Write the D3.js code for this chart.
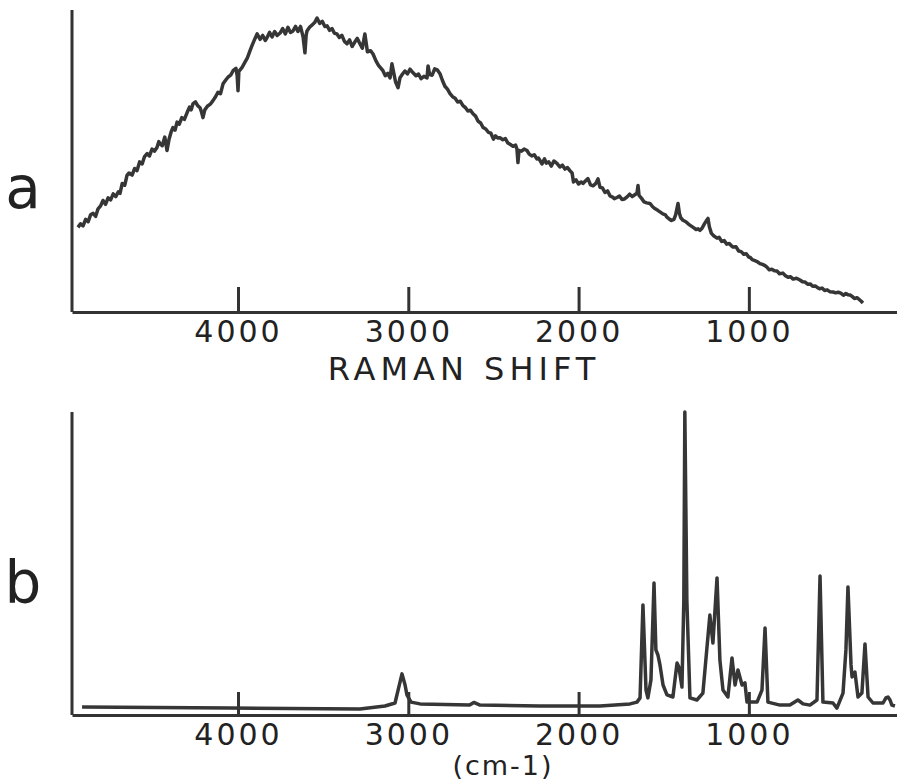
<!DOCTYPE html>
<html>
<head>
<meta charset="utf-8">
<script src="https://cdn.jsdelivr.net/npm/d3@7"></script>
<style>
  body { margin: 0; background: #fff; }
  svg { display: block; }
  .axis path, .axis line { stroke: #333; stroke-width: 3; }
  .axis text { font-family: 'DejaVu Sans', sans-serif; font-size: 30px; fill: #222; letter-spacing: 3px; }
  .trace { fill: none; stroke: #363636; stroke-width: 3.5; stroke-linejoin: round; }
  .label { font-family: 'DejaVu Sans', sans-serif; fill: #222; }
</style>
</head>
<body>
<svg id="chart" width="897" height="781"></svg>
<script>
// tick labels (Raman shift, cm-1)
var tickValues = [4000, 3000, 2000, 1000]

// (a) broad, noisy spectrum
var shiftA = [4940, 4925, 4910, 4895, 4880, 4866, 4851, 4836, 4822, 4807, 4793, 4778, 4763, 4748, 4733, 4718,
  4703, 4693, 4680, 4665, 4652, 4640, 4622, 4607, 4593, 4578, 4563, 4549, 4534, 4520, 4505, 4490, 4476, 4465,
  4458, 4445, 4430, 4417, 4405, 4393, 4382, 4370, 4358, 4345, 4330, 4315, 4299, 4285, 4275, 4264, 4250, 4237,
  4223, 4215, 4206, 4195, 4180, 4163, 4147, 4132, 4118, 4103, 4088, 4073, 4058, 4043, 4029, 4012, 4005, 4000,
  3995, 3977, 3960, 3945, 3930, 3915, 3900, 3888, 3870, 3855, 3840, 3830, 3815, 3800, 3785, 3770, 3753, 3738,
  3722, 3707, 3692, 3677, 3662, 3648, 3633, 3618, 3607, 3600, 3595, 3580, 3565, 3550, 3536, 3520, 3505, 3490,
  3477, 3462, 3448, 3434, 3419, 3405, 3390, 3375, 3360, 3345, 3330, 3315, 3300, 3284, 3270, 3255, 3240, 3222,
  3207, 3190, 3175, 3160, 3149, 3135, 3120, 3107, 3096, 3075, 3060, 3049, 3035, 3020, 3005, 2990, 2972, 2955,
  2940, 2925, 2908, 2890, 2884, 2875, 2860, 2845, 2830, 2814, 2800, 2785, 2770, 2755, 2740, 2725, 2710, 2695,
  2679, 2665, 2650, 2635, 2620, 2605, 2590, 2575, 2561, 2545, 2530, 2515, 2500, 2488, 2475, 2462, 2445, 2430,
  2415, 2400, 2385, 2370, 2362, 2356, 2350, 2335, 2320, 2303, 2290, 2275, 2260, 2245, 2235, 2227, 2215, 2200,
  2190, 2175, 2160, 2145, 2127, 2110, 2095, 2080, 2065, 2050, 2038, 2030, 2015, 2000, 1985, 1974, 1960, 1945,
  1930, 1915, 1900, 1886, 1874, 1860, 1845, 1830, 1815, 1800, 1790, 1774, 1760, 1745, 1730, 1715, 1700, 1685,
  1670, 1657, 1651, 1645, 1630, 1615, 1600, 1581, 1565, 1550, 1535, 1520, 1505, 1490, 1481, 1470, 1455, 1440,
  1430, 1416, 1408, 1400, 1387, 1370, 1355, 1340, 1325, 1310, 1298, 1287, 1275, 1262, 1250, 1240, 1232, 1220,
  1205, 1187, 1175, 1160, 1145, 1130, 1115, 1100, 1093, 1075, 1060, 1045, 1030, 1015, 1000, 993, 980, 965,
  950, 935, 920, 905, 894, 880, 865, 850, 835, 820, 800, 785, 770, 755, 740, 720, 700, 685, 670, 655, 640,
  625, 610, 600, 585, 570, 555, 540, 525, 506, 490, 475, 460, 445, 430, 418, 406, 395, 380, 365, 350, 340, 330]
var intensityA = [28.3, 29.5, 28.8, 31, 30.2, 32.5, 33, 32, 34.5, 35.5, 37.3, 36, 38.2, 37.5, 39.5, 38.6,
  40.2, 39.7, 43, 42.4, 45.7, 46.5, 45.8, 48, 47.3, 50.2, 49.5, 52, 53, 52.2, 54.5, 53.8, 55, 57,
  56.3, 55.6, 58.5, 54, 57.8, 60.2, 61.7, 60.8, 63.5, 62.8, 65, 64.4, 66.7, 68.5, 67.6, 69.7, 70.3, 69,
  68.3, 67, 65, 67.6, 68.8, 69.5, 70.7, 72, 73.5, 73, 76.3, 77.5, 78.6, 79.2, 80.7, 81.5, 79, 74,
  80.5, 81.7, 83.5, 85, 87.3, 89.5, 91.5, 93, 91.2, 92.5, 90.8, 91.7, 93.5, 92, 93.8, 92.5, 93.3, 94.8,
  93, 95.2, 93.5, 94, 95.5, 93.8, 95.5, 92, 86.7, 92.5, 94, 95.2, 96, 96.8, 98.3, 96.5, 97.2, 95.5,
  95.7, 94.2, 94.8, 93.2, 93, 91.8, 92.5, 90.5, 89.7, 91, 88.8, 90.2, 91.5, 89.7, 88.2, 93, 87, 87.4,
  86.3, 84, 82.5, 81.5, 80.7, 79, 79.8, 78.3, 83, 77, 75, 78.3, 79.5, 80.6, 79.6, 81.2, 80, 79,
  79.6, 78, 78.8, 78.3, 82.3, 79.4, 79.2, 81.3, 81, 79.7, 77.5, 75.5, 74.5, 73, 72, 71.5, 70.2, 70.5,
  69, 68.4, 67.2, 67.5, 66.3, 65.5, 63.8, 63.2, 61.7, 61.2, 60.1, 59.8, 57.8, 58.9, 58.2, 58.3, 57.6, 58,
  56.5, 56, 55.4, 55.8, 54.5, 50, 54, 53.8, 54.5, 54, 52.8, 52.2, 52.6, 51.2, 51.5, 50.7, 49.5, 51.2,
  49.8, 50.2, 48.8, 50.5, 49.7, 48.5, 49.1, 47.8, 48.3, 47.2, 46.5, 43.5, 44.2, 42.8, 43.5, 43, 43.8, 44.6,
  42.5, 42.2, 42.9, 44.5, 41.7, 41.5, 40, 40.5, 38.8, 38.4, 37.9, 38.3, 38.8, 37.6, 37.8, 38.5, 39.4, 38.6,
  39.2, 39.7, 42.3, 39, 38, 36.8, 36.5, 36.3, 35.2, 34.5, 34, 33.4, 32.8, 32.5, 31.7, 31.2, 30.6, 31,
  32.5, 36.3, 33, 31.5, 30.7, 30.2, 29.4, 28.8, 28.2, 27.6, 27.8, 27.3, 28, 29.4, 30.5, 31.3, 28.5, 26.3,
  25.4, 24.7, 25, 23.6, 23.9, 22.7, 22.9, 22, 21.7, 21.8, 20.4, 20.2, 19.3, 19.5, 18.3, 18.3, 17.5, 17.2,
  16.8, 16.2, 15.9, 15.5, 15, 14.1, 14.3, 13.8, 13.7, 12.8, 13, 12.1, 11.6, 11.8, 11, 11.3, 10.7, 10.1, 10, 9.3, 9.4,
  8.6, 8.7, 8.3, 7.8, 8, 7.2, 7.4, 6.8, 6.7, 6.4, 6.6, 6.3, 5.6, 6.2, 5.8, 5.7, 5.3, 4.5, 4.8, 4.1, 3.6, 3]

// (b) sharp-band spectrum
var shiftB = [4916, 4047, 3284, 3137, 3078, 3060, 3037, 3019, 3008, 2984, 2931, 2640, 2615, 2579, 2227, 1874,
  1698, 1657, 1639, 1622, 1604, 1593, 1575, 1557, 1546, 1534, 1522, 1504, 1481, 1446, 1422, 1411, 1393, 1382,
  1376, 1364, 1346, 1305, 1270, 1229, 1211, 1187, 1170, 1152, 1123, 1099, 1081, 1064, 1040, 1023, 1011, 952,
  923, 905, 888, 817, 759, 712, 682, 641, 600, 582, 565, 506, 483, 447, 430, 418, 400, 394, 377, 359, 336,
  318, 300, 271, 212, 195, 183, 171, 160, 142]
var intensityB = [2.7, 2.3, 2, 3, 4, 8.3, 13.7, 10, 6.7, 4.3, 3.7, 3.3, 4.2, 3.3, 3, 3, 3.7,
  4.3, 5.7, 36.7, 8.3, 5.7, 11.7, 44, 21.7, 20, 16.7, 10, 6.7, 6, 17.3, 16, 9.3, 38,
  101, 38, 5.7, 5, 7.3, 33.3, 24, 45.7, 18.3, 8.3, 6, 19, 10, 15, 10, 10.7, 4.3, 4.3,
  8.3, 29, 4.3, 3.3, 3.3, 5, 3.7, 3.3, 5, 46.3, 4.3, 4, 2.3, 7.3, 21.7, 42.7, 16.7, 12.7, 14.3, 6, 7.3,
  23.7, 6, 4, 4, 5.7, 6, 5, 3.3, 3]

var svg = d3.select('#chart')

var x = d3.scaleLinear()
  .domain([4975, 130])
  .range([72, 897])

function drawPanel (top, bottom, tickLen, xs, ys, letter, letterY) {
  var y = d3.scaleLinear()
    .domain([0, 100])
    .range([bottom, bottom - (bottom - top) * 100 / 101])

  var g = svg.append('g')

  g.append('g')
    .attr('class', 'axis')
    .attr('transform', 'translate(0,' + bottom + ')')
    .call(d3.axisBottom(x)
      .tickValues(tickValues)
      .tickSize(-tickLen)
      .tickSizeOuter(0)
      .tickPadding(9)
      .tickFormat(d3.format('d')))

  g.append('line')
    .attr('x1', 72).attr('x2', 72)
    .attr('y1', top).attr('y2', bottom)
    .attr('stroke', '#333')
    .attr('stroke-width', 3)

  var line = d3.line()
    .x(function (d, i) { return x(xs[i]) })
    .y(function (d, i) { return y(ys[i]) })

  g.append('path')
    .datum(xs)
    .attr('class', 'trace')
    .attr('d', line)

  g.append('text')
    .attr('class', 'label')
    .attr('x', 23)
    .attr('y', letterY)
    .attr('text-anchor', 'middle')
    .attr('font-size', 58)
    .text(letter)
}

drawPanel(10, 312, 25, shiftA, intensityA, 'a', 208)
drawPanel(412, 715, 23, shiftB, intensityB, 'b', 603)

svg.append('text')
  .attr('class', 'label')
  .attr('x', 464)
  .attr('y', 380)
  .attr('text-anchor', 'middle')
  .attr('font-size', 32)
  .attr('letter-spacing', 5)
  .text('RAMAN SHIFT')

svg.append('text')
  .attr('class', 'label')
  .attr('x', 503)
  .attr('y', 775)
  .attr('text-anchor', 'middle')
  .attr('font-size', 27)
  .attr('letter-spacing', 2)
  .text('(cm-1)')
</script>
</body>
</html>
